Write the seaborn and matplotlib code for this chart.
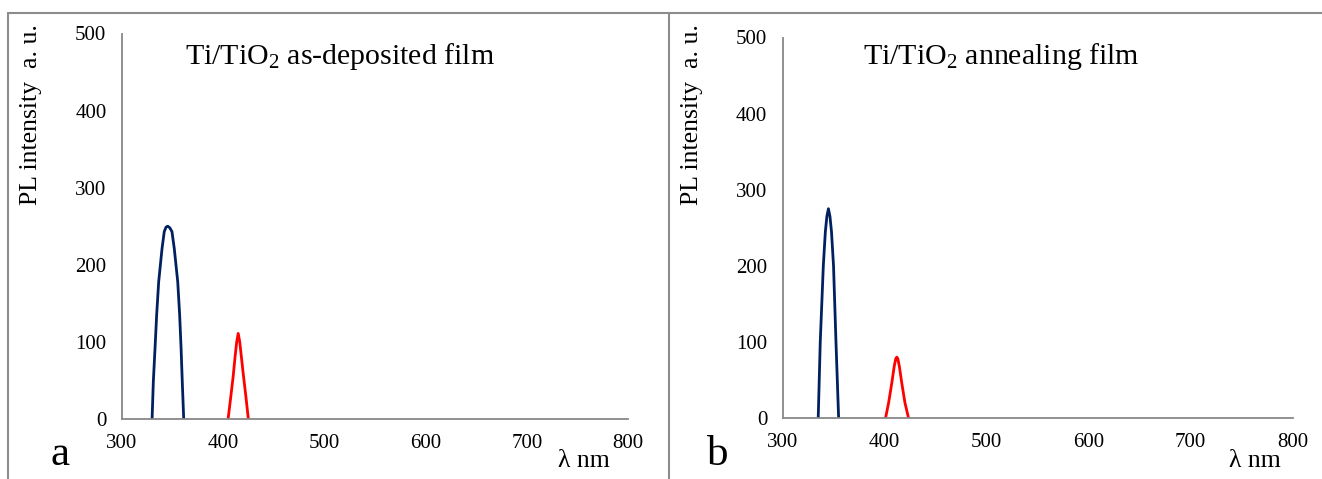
import matplotlib
matplotlib.use("Agg")
import matplotlib.pyplot as plt
from matplotlib.lines import Line2D
import seaborn as sns
import pandas as pd

# ---- data ----
a_blue_x = [330, 331.2, 332.9, 334.5, 336.5, 339.8, 342, 343.8, 345.5, 347.5, 349.6, 351.9, 355.3, 357.2, 358.6, 359.8, 361.2]
a_blue_y = [0, 48, 92, 135, 178, 221, 243, 249, 250, 248, 243, 221, 178, 135, 92, 48, 0]
a_red_x = [405, 407.5, 410, 412, 413.5, 415, 416.5, 418, 420, 422.5, 425]
a_red_y = [0, 27, 55, 82, 100, 111, 100, 82, 58, 30, 0]

b_blue_x = [335, 337, 340, 342, 343.5, 345, 346.5, 348, 350, 352.4, 355]
b_blue_y = [0, 100, 200, 245, 265, 275, 265, 245, 200, 100, 0]
b_red_x = [401, 404, 407, 409.5, 411, 412, 413, 414.5, 417, 420, 423.5]
b_red_y = [0, 20, 45, 68, 78, 80, 78, 68, 45, 20, 0]

x_ticks = [300, 400, 500, 600, 700, 800]
y_ticks = [0, 100, 200, 300, 400, 500]
titles = ["Ti/TiO$_2$ as-deposited film", "Ti/TiO$_2$ annealing film"]
panel_letters = ["a", "b"]
y_label = "PL intensity  a. u."
x_label = "λ nm"

BLUE = "#002060"
RED = "#ff0000"
GREY = "#888888"

sns.set_style("white")
plt.rcParams["font.family"] = ["Liberation Serif", "DejaVu Serif"]
plt.rcParams["mathtext.fontset"] = "custom"
plt.rcParams["mathtext.rm"] = "Liberation Serif"
plt.rcParams["mathtext.it"] = "Liberation Serif:italic"
plt.rcParams["text.color"] = "black"

W, H = 1322, 479
fig = plt.figure(figsize=(W / 100, H / 100), dpi=100)


def fx(px):
    return px / W


def fy(py):
    return 1 - py / H


panels = [
    dict(rect=(121.7, 628.3, 33.5, 419.0), blue=(a_blue_x, a_blue_y), red=(a_red_x, a_red_y),
         title_x=185, ylab_x=31, letter_x=50, xlab_x=584),
    dict(rect=(782.5, 1292.7, 37.5, 418.0), blue=(b_blue_x, b_blue_y), red=(b_red_x, b_red_y),
         title_x=862.5, ylab_x=692, letter_x=707, xlab_x=1254.5),
]

for i, p in enumerate(panels):
    l, r, t, b = p["rect"]
    ax = fig.add_axes([fx(l), fy(b), fx(r) - fx(l), (b - t) / H])
    df = pd.concat([
        pd.DataFrame({"wl": p["blue"][0], "I": p["blue"][1], "band": "UV"}),
        pd.DataFrame({"wl": p["red"][0], "I": p["red"][1], "band": "VIS"}),
    ])
    sns.lineplot(data=df, x="wl", y="I", hue="band", palette={"UV": BLUE, "VIS": RED},
                 estimator=None, sort=False, legend=False, lw=2.0, ax=ax)
    ax.set_xlim(300, 800)
    ax.set_ylim(0, 500)
    ax.set_xticks(x_ticks)
    ax.set_yticks(y_ticks)
    ax.set_xlabel("")
    ax.set_ylabel("")
    for s in ["top", "right"]:
        ax.spines[s].set_visible(False)
    for s in ["left", "bottom"]:
        ax.spines[s].set_color(GREY)
        ax.spines[s].set_linewidth(1.3)
    ax.tick_params(axis="both", direction="out", length=4, width=1.2, color=GREY,
                   labelsize=15, labelcolor="black", pad=7)
    ax.patch.set_alpha(0)

    fig.text(fx(p["title_x"]), fy(64), titles[i], fontsize=21.5, ha="left", va="baseline",
             color="black")
    fig.text(fx(p["ylab_x"]), fy(115), y_label, fontsize=18.5, rotation=90,
             ha="center", va="center", color="black")
    fig.text(fx(p["letter_x"]), fy(465), panel_letters[i], fontsize=31, ha="left",
             va="baseline", color="black")
    fig.text(fx(p["xlab_x"]), fy(467), x_label, fontsize=18.5, ha="center", va="baseline",
             color="black")

# frame lines
frame_kw = dict(color="#8c8c8c", lw=1.5, transform=fig.transFigure)
fig.add_artist(Line2D([fx(8), 1.0], [fy(13), fy(13)], **frame_kw))
fig.add_artist(Line2D([fx(8), fx(8)], [fy(13), 0], **frame_kw))
fig.add_artist(Line2D([fx(669), fx(669)], [fy(13), 0], **frame_kw))

fig.savefig("out.png", dpi=100)
